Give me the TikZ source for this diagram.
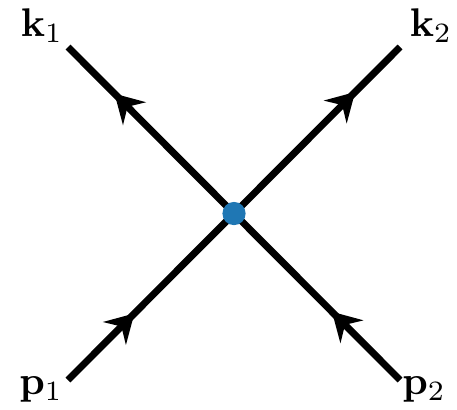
\documentclass[tikz,border=0pt]{standalone}
\usepackage{amsmath,amssymb}
\usepackage{xcolor}
\usepackage{tikz}
\usetikzlibrary{arrows.meta,decorations.markings}
\definecolor{vertexblue}{HTML}{1F77B4}
\tikzset{
  fermionline/.style={line width=1.75pt,postaction={decorate},
    decoration={markings,mark=at position #1 with {\arrow{Stealth[length=7pt,width=8pt,inset=2.4pt]}}}},
  vertexdot/.style={circle,fill=vertexblue,inner sep=0pt,minimum size=5.8pt},
  momlabel/.style={anchor=base,inner sep=0pt}
}
\begin{document}
\begin{tikzpicture}[x=0.25pt,y=-0.25pt]
  \useasboundingbox (0,0) rectangle (457,409);
  \coordinate (c) at (234,213.5);
  \coordinate (k1e) at (68,47);
  \coordinate (k2e) at (400,47);
  \coordinate (p1e) at (68,380);
  \coordinate (p2e) at (400,380);
  % external legs
  \draw[fermionline=0.40] (p1e) -- (c);
  \draw[fermionline=0.41] (p2e) -- (c);
  \draw[fermionline=0.72] (c) -- (k1e);
  \draw[fermionline=0.73] (c) -- (k2e);
  \node[vertexdot] (v) at (c) {};
  % momenta
  \node[momlabel] (k1) at (42,36) {$\mathbf{k}_1$};
  \node[momlabel] (k2) at (431,36) {$\mathbf{k}_2$};
  \node[momlabel] (p1) at (41,394) {$\mathbf{p}_1$};
  \node[momlabel] (p2) at (424,394) {$\mathbf{p}_2$};
\end{tikzpicture}
\end{document}
